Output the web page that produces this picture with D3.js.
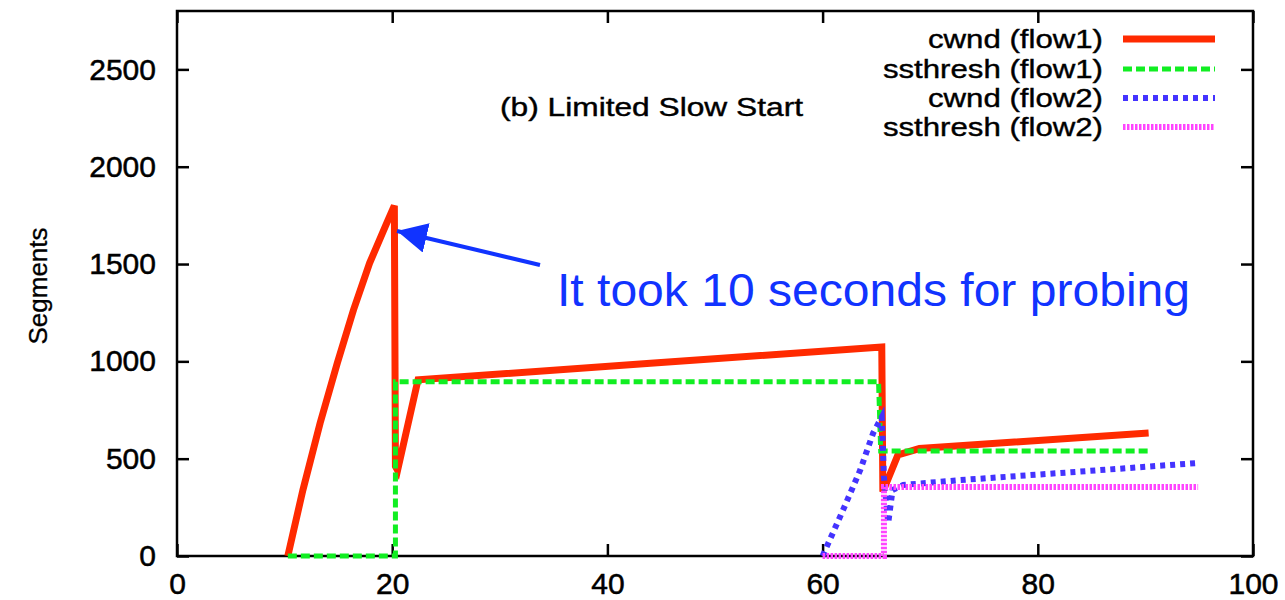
<!DOCTYPE html>
<html><head><meta charset="utf-8">
<script src="https://cdn.jsdelivr.net/npm/d3@7"></script>
<style>body{margin:0;background:#fff}svg{display:block}text{font-family:"Liberation Sans",Arial,sans-serif}</style>
</head><body>
<svg id="c" width="1285" height="600"></svg>
<script>
const xTicks = [0,20,40,60,80,100];
const yTicks = [0,500,1000,1500,2000,2500];
const seriesNames = ["cwnd (flow1)","ssthresh (flow1)","cwnd (flow2)","ssthresh (flow2)"];
const cwnd1 = [[10.3,0],[11.7,339],[13.3,683],[14.9,992],[16.4,1264],[17.9,1505],[19.5,1711],[20.2,1800],[20.3,460],[20.5,440],[22.4,905],[44,990],[65.5,1074],[65.6,330],[67.0,519],[69.0,552],[90.3,632]];
const ssth1 = [[10.3,0],[20.3,0],[20.3,895],[65.2,895],[65.4,540],[90.3,540]];
const cwnd2 = [[60.0,0],[61.9,236],[63.5,442],[64.7,632],[65.5,714],[65.7,406],[66.1,170],[66.5,339],[67.5,365],[72.8,390],[83,430],[94.9,478]];
const ssth2 = [[60.0,0],[65.7,0],[65.7,355],[94.9,355]];
const titleText = "(b) Limited Slow Start";
const noteText = "It took 10 seconds for probing";

const L=177,R=1253,T=11,B=556;
const svg=d3.select("#c");
const x=d3.scaleLinear().domain([0,100]).range([L,R]);
const y=d3.scaleLinear().domain([0,2800]).range([B,T]);

const fmt=d3.format("d");
const gx=svg.append("g").attr("transform",`translate(0,${B})`).call(d3.axisBottom(x).tickValues(xTicks).tickSize(-12).tickPadding(27).tickFormat(fmt));
const gy=svg.append("g").attr("transform",`translate(${L},0)`).call(d3.axisLeft(y).tickValues(yTicks).tickSize(-12).tickPadding(21).tickFormat(fmt));
const gt=svg.append("g").attr("transform",`translate(0,${T})`).call(d3.axisTop(x).tickValues(xTicks).tickSize(-12).tickFormat(""));
const gr=svg.append("g").attr("transform",`translate(${R},0)`).call(d3.axisRight(y).tickValues(yTicks).tickSize(-12).tickFormat(""));
[gx,gy,gt,gr].forEach(g=>{g.select(".domain").remove();g.selectAll("line").attr("stroke","#000").attr("stroke-width",2.5);
  g.selectAll("text").attr("font-size",30).attr("fill","#000").attr("stroke","#000").attr("stroke-width",0.5);});
gx.selectAll("text").attr("dy","0.35em");
svg.append("rect").attr("x",L).attr("y",T).attr("width",R-L).attr("height",B-T).attr("fill","none").attr("stroke","#000").attr("stroke-width",2.5);

svg.append("text").attr("transform",`translate(47,286) rotate(-90)`).attr("text-anchor","middle").attr("font-size",26)
  .attr("stroke","#000").attr("stroke-width",0.3).text("Segments");
svg.append("text").attr("x",500).attr("y",116).attr("font-size",25).attr("textLength",303).attr("lengthAdjust","spacingAndGlyphs")
  .attr("stroke","#000").attr("stroke-width",0.4).text(titleText);

const styles=[
 {c:"#ff2a00",w:7,d:null},
 {c:"#11ee22",w:5,d:"9,4"},
 {c:"#4433ff",w:6,d:"5,5"},
 {c:"#ff44ff",w:6,d:"2.5,1.5"}];
const data=[cwnd1,ssth1,cwnd2,ssth2];
const line=d3.line().x(d=>x(d[0])).y(d=>y(d[1]));
data.forEach((s,i)=>{
  svg.append("path").attr("d",line(s)).attr("fill","none").attr("stroke",styles[i].c).attr("stroke-width",styles[i].w)
   .attr("stroke-dasharray",styles[i].d).attr("stroke-linejoin","miter").attr("stroke-linecap","butt");
});

// legend
const ly=[39,69,98,127];
seriesNames.forEach((n,i)=>{
  svg.append("g").attr("transform",`translate(1103,${ly[i]}) scale(1.2,1)`)
    .append("text").attr("dy","0.35em").attr("text-anchor","end").attr("font-size",26)
    .attr("stroke","#000").attr("stroke-width",0.4).text(n);
  svg.append("line").attr("x1",1123).attr("x2",1215).attr("y1",ly[i]).attr("y2",ly[i]).attr("stroke",styles[i].c).attr("stroke-width",styles[i].w).attr("stroke-dasharray",styles[i].d);
});

// annotation
const blue="#1133ff";
svg.append("defs").append("marker").attr("id","ah").attr("viewBox","0 0 10 10").attr("refX",10).attr("refY",5)
  .attr("markerWidth",7.5).attr("markerHeight",7.5).attr("orient","auto").attr("markerUnits","strokeWidth")
  .append("path").attr("d","M0,0L10,5L0,10Z").attr("fill",blue);
svg.append("line").attr("x1",540).attr("y1",265).attr("x2",397).attr("y2",231).attr("stroke",blue).attr("stroke-width",4).attr("marker-end","url(#ah)");
svg.append("text").attr("x",557).attr("y",306).attr("font-size",46).attr("fill",blue).attr("textLength",633).attr("lengthAdjust","spacingAndGlyphs").text(noteText);
</script>
</body></html>
